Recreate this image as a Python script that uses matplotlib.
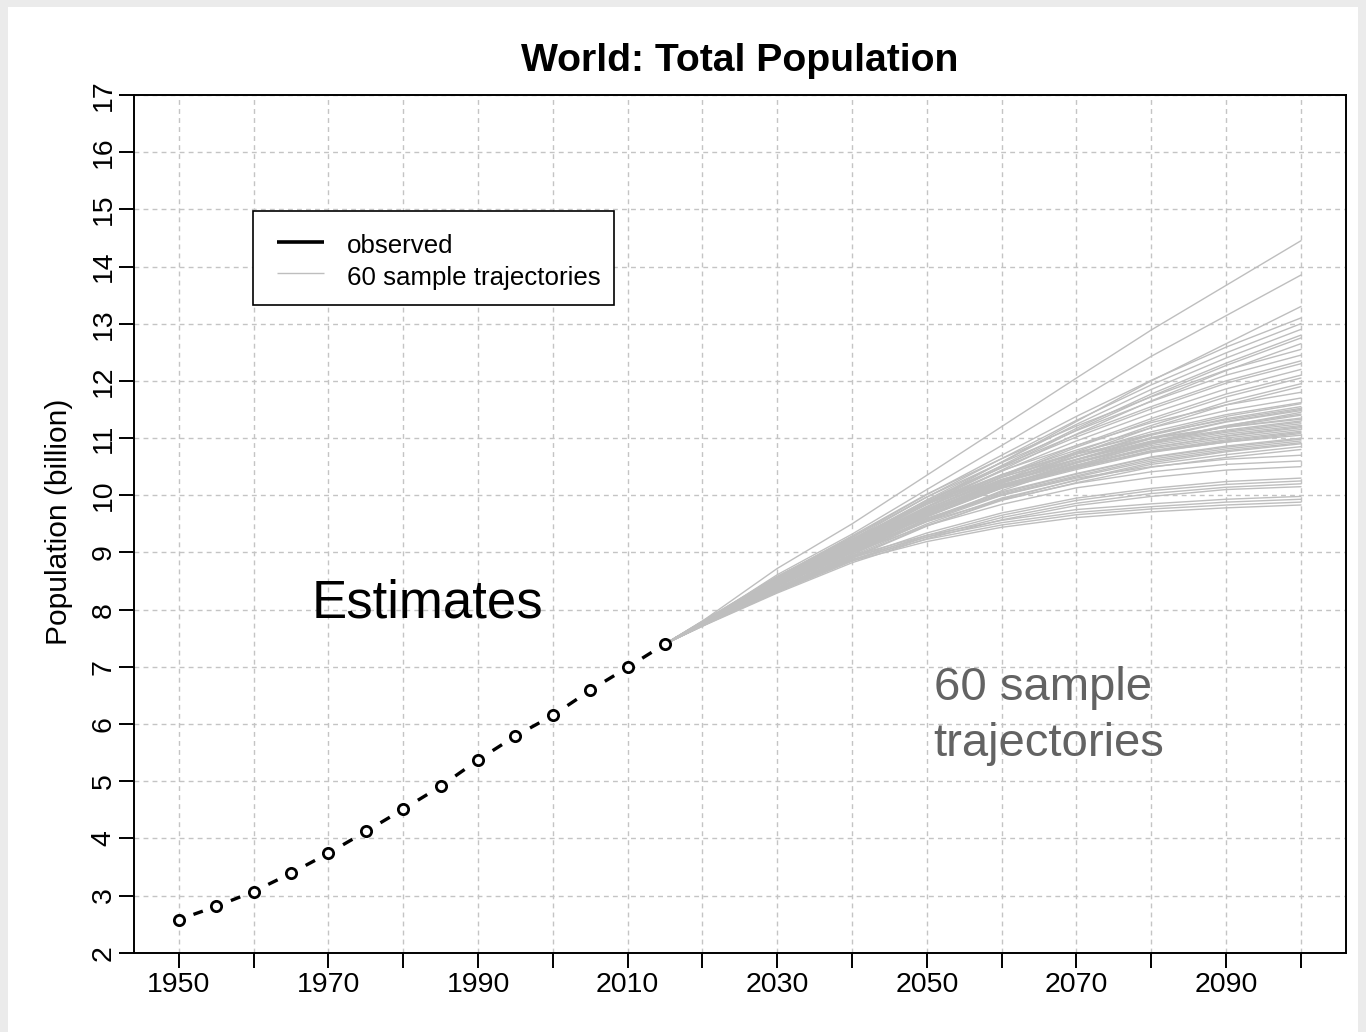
import matplotlib
matplotlib.use("Agg")
import matplotlib.pyplot as plt
from matplotlib.lines import Line2D
from matplotlib.patches import Rectangle

plt.rcParams["font.family"] = ["Liberation Sans", "DejaVu Sans"]

# ---- data -------------------------------------------------------------
obs_years = [1950, 1955, 1960, 1965, 1970, 1975, 1980,
             1985, 1990, 1995, 2000, 2005, 2010, 2015]
obs_pop = [2.58, 2.81, 3.07, 3.39, 3.74, 4.12, 4.51,
           4.91, 5.37, 5.79, 6.15, 6.59, 6.99, 7.40]

# projection years (first one is the last observed year)
traj_years = [2015, 2020, 2030, 2040, 2050, 2060, 2070, 2080, 2090, 2100]

# sample trajectories, values for 2020 ... 2100 (billion)
trajectories = [
    [7.80, 8.72, 9.50, 10.35, 11.20, 12.05, 12.89, 13.67, 14.45],
    [7.77, 8.61, 9.32, 10.10, 10.87, 11.65, 12.43, 13.14, 13.85],
    [7.74, 8.50, 9.16, 9.87, 10.58, 11.29, 12.00, 12.65, 13.30],
    [7.78, 8.58, 9.27, 10.01, 10.70, 11.38, 12.01, 12.59, 13.10],
    [7.77, 8.56, 9.23, 9.97, 10.64, 11.31, 11.93, 12.49, 13.00],
    [7.77, 8.54, 9.20, 9.92, 10.58, 11.24, 11.85, 12.40, 12.90],
    [7.76, 8.52, 9.17, 9.87, 10.52, 11.17, 11.77, 12.31, 12.80],
    [7.76, 8.51, 9.15, 9.85, 10.49, 11.14, 11.73, 12.27, 12.75],
    [7.75, 8.49, 9.12, 9.80, 10.44, 11.07, 11.65, 12.18, 12.65],
    [7.79, 8.57, 9.29, 10.02, 10.64, 11.21, 11.72, 12.19, 12.55],
    [7.79, 8.55, 9.26, 9.97, 10.57, 11.13, 11.64, 12.10, 12.45],
    [7.78, 8.52, 9.22, 9.91, 10.51, 11.06, 11.55, 12.00, 12.35],
    [7.77, 8.51, 9.20, 9.89, 10.48, 11.02, 11.51, 11.96, 12.30],
    [7.77, 8.49, 9.16, 9.84, 10.42, 10.95, 11.43, 11.86, 12.20],
    [7.76, 8.47, 9.13, 9.79, 10.35, 10.87, 11.34, 11.77, 12.10],
    [7.75, 8.45, 9.11, 9.76, 10.32, 10.84, 11.30, 11.72, 12.05],
    [7.75, 8.43, 9.07, 9.71, 10.26, 10.76, 11.22, 11.63, 11.95],
    [7.74, 8.42, 9.05, 9.69, 10.23, 10.72, 11.18, 11.58, 11.90],
    [7.78, 8.53, 9.19, 9.86, 10.43, 10.87, 11.27, 11.58, 11.80],
    [7.77, 8.50, 9.15, 9.80, 10.36, 10.79, 11.18, 11.48, 11.70],
    [7.76, 8.48, 9.12, 9.75, 10.31, 10.73, 11.11, 11.41, 11.62],
    [7.74, 8.44, 9.06, 9.68, 10.24, 10.68, 11.07, 11.38, 11.60],
    [7.76, 8.46, 9.09, 9.72, 10.26, 10.67, 11.05, 11.34, 11.55],
    [7.78, 8.55, 9.22, 9.84, 10.35, 10.75, 11.07, 11.32, 11.52],
    [7.75, 8.45, 9.07, 9.69, 10.22, 10.63, 11.01, 11.29, 11.50],
    [7.75, 8.45, 9.06, 9.68, 10.21, 10.62, 10.99, 11.28, 11.48],
    [7.72, 8.38, 8.96, 9.55, 10.08, 10.52, 10.90, 11.21, 11.45],
    [7.74, 8.43, 9.04, 9.64, 10.17, 10.57, 10.94, 11.22, 11.42],
    [7.74, 8.43, 9.03, 9.63, 10.15, 10.56, 10.92, 11.20, 11.40],
    [7.78, 8.53, 9.17, 9.80, 10.32, 10.68, 10.99, 11.19, 11.35],
    [7.80, 8.58, 9.24, 9.86, 10.36, 10.72, 11.00, 11.19, 11.33],
    [7.77, 8.52, 9.14, 9.77, 10.28, 10.63, 10.95, 11.14, 11.30],
    [7.77, 8.51, 9.14, 9.76, 10.27, 10.62, 10.93, 11.12, 11.28],
    [7.77, 8.50, 9.12, 9.74, 10.24, 10.59, 10.90, 11.10, 11.25],
    [7.76, 8.49, 9.11, 9.72, 10.22, 10.57, 10.87, 11.07, 11.22],
    [7.73, 8.42, 9.02, 9.62, 10.13, 10.50, 10.83, 11.04, 11.20],
    [7.76, 8.48, 9.09, 9.70, 10.19, 10.53, 10.84, 11.03, 11.18],
    [7.76, 8.47, 9.08, 9.68, 10.17, 10.51, 10.81, 11.00, 11.15],
    [7.75, 8.46, 9.06, 9.66, 10.15, 10.48, 10.78, 10.97, 11.12],
    [7.75, 8.46, 9.05, 9.65, 10.13, 10.47, 10.77, 10.95, 11.10],
    [7.75, 8.45, 9.05, 9.64, 10.12, 10.45, 10.75, 10.93, 11.08],
    [7.78, 8.52, 9.13, 9.72, 10.18, 10.50, 10.76, 10.93, 11.05],
    [7.74, 8.43, 9.01, 9.59, 10.06, 10.38, 10.67, 10.86, 11.00],
    [7.74, 8.42, 9.00, 9.58, 10.04, 10.37, 10.66, 10.84, 10.98],
    [7.74, 8.42, 8.99, 9.56, 10.02, 10.34, 10.63, 10.81, 10.95],
    [7.73, 8.41, 8.97, 9.54, 10.00, 10.32, 10.60, 10.78, 10.92],
    [7.71, 8.35, 8.90, 9.46, 9.93, 10.27, 10.57, 10.76, 10.90],
    [7.73, 8.39, 8.94, 9.50, 9.95, 10.26, 10.54, 10.71, 10.85],
    [7.72, 8.37, 8.92, 9.47, 9.91, 10.22, 10.49, 10.66, 10.80],
    [7.78, 8.48, 9.11, 9.60, 10.00, 10.30, 10.50, 10.63, 10.70],
    [7.77, 8.44, 9.05, 9.54, 9.92, 10.21, 10.41, 10.54, 10.60],
    [7.75, 8.41, 9.00, 9.47, 9.84, 10.13, 10.31, 10.44, 10.50],
    [7.73, 8.34, 8.90, 9.34, 9.69, 9.95, 10.12, 10.24, 10.30],
    [7.72, 8.33, 8.87, 9.30, 9.65, 9.91, 10.08, 10.19, 10.25],
    [7.72, 8.31, 8.85, 9.27, 9.61, 9.86, 10.03, 10.14, 10.20],
    [7.71, 8.29, 8.82, 9.24, 9.57, 9.82, 9.98, 10.10, 10.15],
    [7.74, 8.37, 8.94, 9.30, 9.56, 9.75, 9.85, 9.93, 9.98],
    [7.74, 8.35, 8.91, 9.27, 9.52, 9.70, 9.80, 9.88, 9.93],
    [7.73, 8.33, 8.88, 9.23, 9.48, 9.66, 9.76, 9.83, 9.88],
    [7.72, 8.31, 8.85, 9.19, 9.44, 9.61, 9.71, 9.78, 9.83],
]

x_ticks = list(range(1950, 2101, 10))
x_ticklabels = ["1950", "", "1970", "", "1990", "", "2010", "", "2030", "",
                "2050", "", "2070", "", "2090", ""]
y_ticks = list(range(2, 18))

title = "World: Total Population"
y_label = "Population (billion)"
legend_labels = ["observed", "60 sample trajectories"]

# ---- styles -----------------------------------------------------------
TRAJ_COLOR = "#bebebe"
GRID_COLOR = "#c4c4c4"
NOTE_COLOR = "#636363"

W, H = 1366, 1032
fig = plt.figure(figsize=(W / 100, H / 100), dpi=100, facecolor="#ebebeb")
fig.patches.append(Rectangle((8 / W, 0), (1358 - 8) / W, (H - 7) / H,
                             transform=fig.transFigure, facecolor="white",
                             edgecolor="none", zorder=-10))

ax = fig.add_axes([134 / W, 1 - 952.7 / H, (1345.7 - 134) / W, (952.7 - 95) / H])
ax.set_xlim(1944, 2106)
ax.set_ylim(2, 17)

ax.set_xticks(x_ticks)
ax.set_xticklabels(x_ticklabels)
ax.set_yticks(y_ticks)
ax.set_yticklabels([str(v) for v in y_ticks], rotation=90, va="center")
ax.tick_params(axis="both", direction="out", length=11, width=1.4,
               labelsize=20.5, colors="black")
ax.tick_params(axis="x", pad=3)
ax.tick_params(axis="y", pad=1.5)
for s in ax.spines.values():
    s.set_linewidth(1.4)
    s.set_color("black")

ax.set_axisbelow(True)
ax.grid(True, color=GRID_COLOR, linestyle=(0, (3.5, 3.0)), linewidth=1.0)

# sample trajectories
for tr in trajectories:
    ax.plot(traj_years, [obs_pop[-1]] + tr, color=TRAJ_COLOR, lw=1.0,
            zorder=2, solid_joinstyle="round")

# observed values: open circles joined by short dashes between points
for i in range(len(obs_years) - 1):
    x0, x1 = obs_years[i], obs_years[i + 1]
    y0, y1 = obs_pop[i], obs_pop[i + 1]
    a, b = 0.39, 0.64
    ax.plot([x0 + a * (x1 - x0), x0 + b * (x1 - x0)],
            [y0 + a * (y1 - y0), y0 + b * (y1 - y0)],
            color="black", lw=2.4, solid_capstyle="butt", zorder=4)
ax.plot(obs_years, obs_pop, linestyle="none", marker="o", ms=7.4,
        mfc="white", mec="black", mew=2.0, zorder=5)

# annotations
ax.text(1967.7, 7.87, "Estimates", fontsize=38, color="black",
        ha="left", va="baseline", zorder=6)
ax.text(2050.9, 6.42, "60 sample", fontsize=34, color=NOTE_COLOR,
        ha="left", va="baseline", zorder=6)
ax.text(2050.9, 5.44, "trajectories", fontsize=34, color=NOTE_COLOR,
        ha="left", va="baseline", zorder=6)

# title and axis label
fig.text(739.8 / W, 1 - 71 / H, title, fontsize=28.2, fontweight="bold",
         ha="center", va="baseline")
fig.text(59 / W, 1 - 522 / H, y_label, fontsize=21.5, rotation=90,
         ha="center", va="center")

# legend box
fig.patches.append(Rectangle((253 / W, 1 - 305 / H), (614 - 253) / W, 94 / H,
                             transform=fig.transFigure, facecolor="white",
                             edgecolor="black", linewidth=1.2, zorder=10))
fig.lines.append(Line2D([277 / W, 324 / W], [1 - 241.5 / H] * 2,
                        transform=fig.transFigure, color="black", lw=2.6,
                        solid_capstyle="butt", zorder=11))
fig.lines.append(Line2D([277 / W, 324 / W], [1 - 272.5 / H] * 2,
                        transform=fig.transFigure, color=TRAJ_COLOR, lw=1.0,
                        solid_capstyle="butt", zorder=11))
fig.text(347 / W, 1 - 253 / H, legend_labels[0], fontsize=18.6,
         ha="left", va="baseline", zorder=11)
fig.text(347 / W, 1 - 285 / H, legend_labels[1], fontsize=18.6,
         ha="left", va="baseline", zorder=11)

fig.savefig("out.png", dpi=100, facecolor=fig.get_facecolor())
